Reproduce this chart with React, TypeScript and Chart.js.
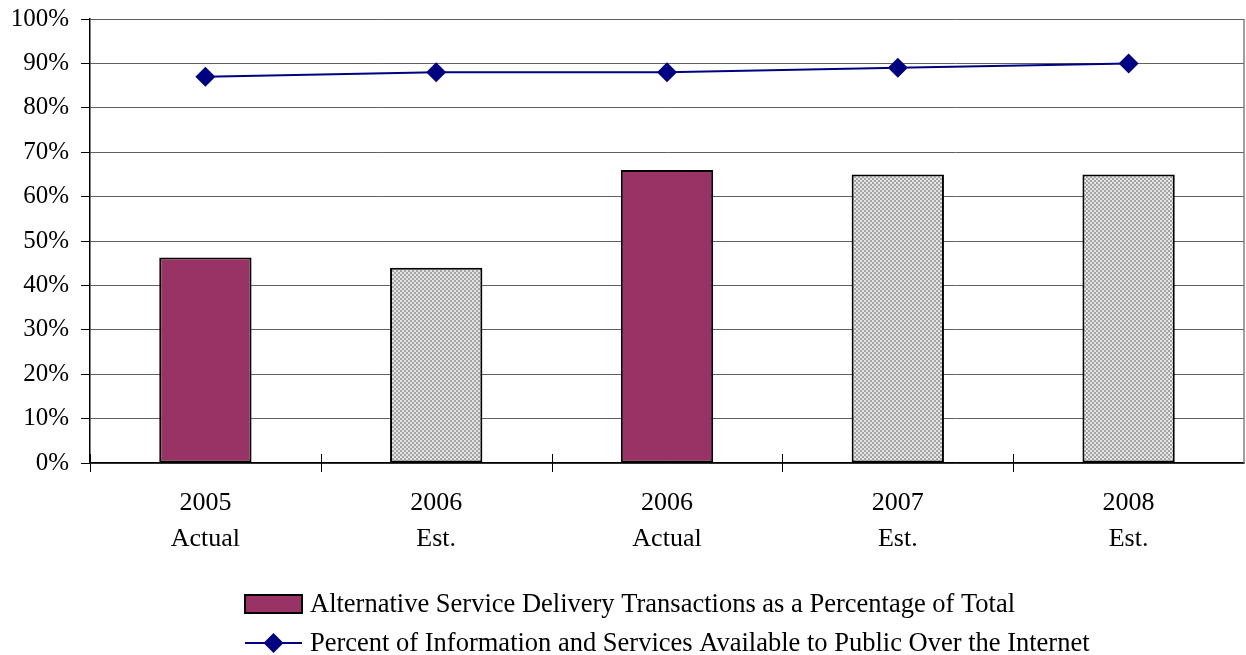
import React, { useEffect, useRef } from "react";
import { Chart, registerables } from "chart.js";

Chart.register(...registerables);

const categories: string[][] = [
  ["2005", "Actual"],
  ["2006", "Est."],
  ["2006", "Actual"],
  ["2007", "Est."],
  ["2008", "Est."],
];
const barValues: number[] = [46.3, 44, 66, 65, 65];
const barIsActual: boolean[] = [true, false, true, false, false];
const lineValues: number[] = [87, 88, 88, 89, 90];
const barLabel = "Alternative Service Delivery Transactions as a Percentage of Total";
const lineLabel = "Percent of Information and Services Available to Public Over the Internet";

const FONT = "'Liberation Serif', 'Times New Roman', serif";
const MAROON = "#993366";
const NAVY = "#000080";

function makePattern(): CanvasPattern | string {
  const c = document.createElement("canvas");
  c.width = 4;
  c.height = 4;
  const g = c.getContext("2d");
  if (!g) return "#b8b8b8";
  g.fillStyle = "#a4a4a4";
  g.fillRect(0, 0, 4, 4);
  g.fillStyle = "#e4e4e4";
  g.fillRect(0, 0, 2, 2);
  g.fillRect(2, 2, 2, 2);
  const p = g.createPattern(c, "repeat");
  return p || "#b8b8b8";
}

export default function App() {
  const ref = useRef<HTMLCanvasElement | null>(null);

  useEffect(() => {
    document.body.style.margin = "0";
    const canvas = ref.current;
    if (!canvas) return;
    const pattern = makePattern();

    const framePlugin = {
      id: "frame",
      afterDraw(chart: any) {
        const { ctx, chartArea } = chart;
        const { left, right, top, bottom } = chartArea;
        ctx.save();
        // right border
        ctx.strokeStyle = "#808080";
        ctx.lineWidth = 1.5;
        ctx.beginPath();
        ctx.moveTo(right, top);
        ctx.lineTo(right, bottom);
        ctx.stroke();
        // x tick marks at category boundaries
        const xs = chart.scales.x;
        const n = categories.length;
        ctx.strokeStyle = "#000";
        ctx.lineWidth = 1;
        for (let i = 0; i <= n - 1; i++) {
          const p = i === 0 ? left : (xs.getPixelForValue(i - 1) + xs.getPixelForValue(i)) / 2;
          const px = Math.round(p) + 0.5;
          ctx.beginPath();
          ctx.moveTo(px, bottom - 9);
          ctx.lineTo(px, bottom + 9);
          ctx.stroke();
        }
        // legend
        ctx.font = `26.5px ${FONT}`;
        ctx.fillStyle = "#000";
        ctx.textBaseline = "middle";
        ctx.textAlign = "left";
        const lx = 245;
        const y1 = 604;
        const y2 = 643;
        ctx.fillStyle = MAROON;
        ctx.fillRect(lx, y1 - 9, 57, 18);
        ctx.strokeStyle = "#000";
        ctx.lineWidth = 2;
        ctx.strokeRect(lx, y1 - 9, 57, 18);
        ctx.fillStyle = "#000";
        ctx.fillText(barLabel, 310, y1 + 1);
        ctx.strokeStyle = NAVY;
        ctx.lineWidth = 2;
        ctx.beginPath();
        ctx.moveTo(lx, y2);
        ctx.lineTo(lx + 57, y2);
        ctx.stroke();
        ctx.fillStyle = NAVY;
        ctx.beginPath();
        const cx = lx + 28.5;
        ctx.moveTo(cx, y2 - 10);
        ctx.lineTo(cx + 10, y2);
        ctx.lineTo(cx, y2 + 10);
        ctx.lineTo(cx - 10, y2);
        ctx.closePath();
        ctx.fill();
        ctx.fillStyle = "#000";
        ctx.fillText(lineLabel, 310, y2 + 1);
        ctx.restore();
      },
    };

    const chart = new Chart(canvas, {
      type: "bar",
      data: {
        labels: categories,
        datasets: [
          {
            type: "line",
            label: lineLabel,
            data: lineValues,
            borderColor: NAVY,
            backgroundColor: NAVY,
            borderWidth: 2,
            pointStyle: "rectRot",
            pointRadius: 10,
            pointBorderWidth: 0,
            pointBackgroundColor: NAVY,
            fill: false,
            tension: 0,
            order: 0,
          } as any,
          {
            type: "bar",
            label: barLabel,
            data: barValues,
            backgroundColor: barIsActual.map((a) => (a ? MAROON : pattern)) as any,
            borderColor: "#000",
            borderWidth: 2,
            borderSkipped: false,
            barPercentage: 0.4,
            categoryPercentage: 1,
            order: 1,
          } as any,
        ],
      },
      options: {
        animation: false,
        responsive: false,
        maintainAspectRatio: false,
        devicePixelRatio: 1,
        layout: { autoPadding: false, padding: { top: 19, right: 2, left: 0, bottom: 0 } },
        plugins: {
          legend: { display: false },
          tooltip: { enabled: false },
        },
        scales: {
          x: {
            offset: true,
            grid: { display: false, drawTicks: false },
            border: { display: true, color: "#000", width: 1.5 },
            ticks: {
              color: "#000",
              font: { family: FONT, size: 26, lineHeight: 1.38 },
              padding: 22,
              maxRotation: 0,
              autoSkip: false,
            },
            afterFit(scale: any) {
              scale.height = 192;
              scale.paddingLeft = 0;
              scale.paddingRight = 0;
            },
          },
          y: {
            min: 0,
            max: 100,
            ticks: {
              stepSize: 10,
              color: "#000",
              font: { family: FONT, size: 25 },
              padding: 12,
              callback: (v: any) => `${v}%`,
            },
            grid: {
              color: "#606060",
              lineWidth: 1,
              tickLength: 9,
              tickColor: "#000",
            },
            border: { display: true, color: "#000", width: 1.5 },
            afterFit(scale: any) {
              scale.width = 90;
              scale.paddingTop = 0;
              scale.paddingBottom = 0;
            },
          },
        },
      },
      plugins: [framePlugin],
    });

    return () => {
      chart.destroy();
    };
  }, []);

  return (
    <div style={{ width: 1246, height: 655 }}>
      <canvas ref={ref} width={1246} height={655} style={{ display: "block", width: 1246, height: 655 }} />
    </div>
  );
}
